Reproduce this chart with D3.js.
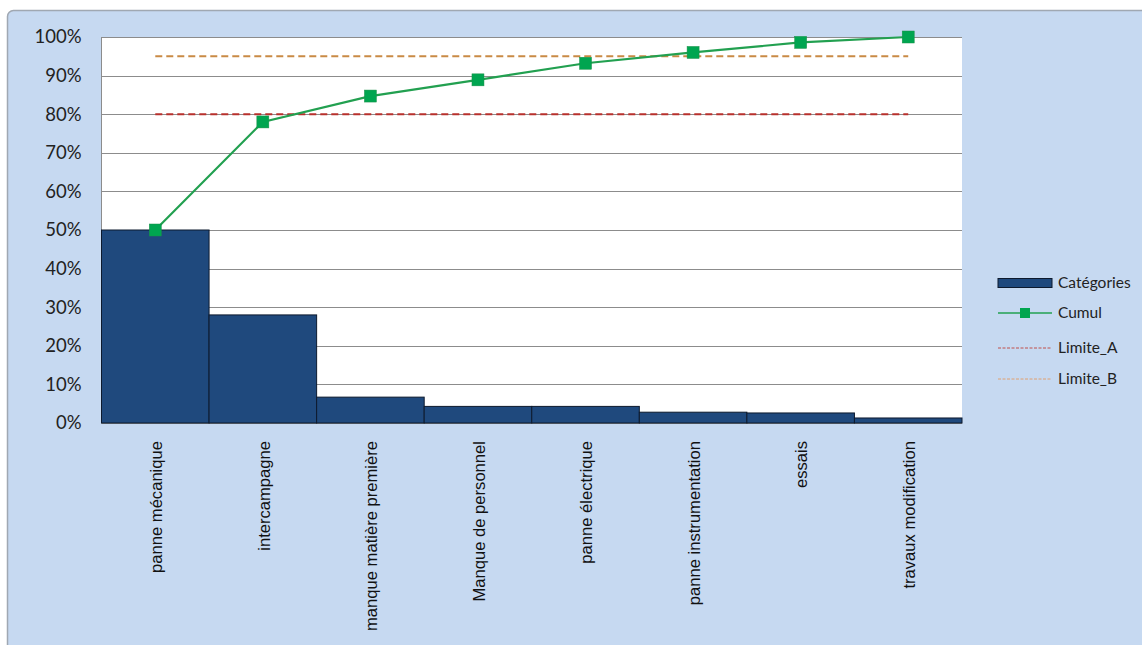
<!DOCTYPE html>
<html><head><meta charset="utf-8">
<script src="https://cdn.jsdelivr.net/npm/d3@7/dist/d3.min.js"></script>
<style>
html,body{margin:0;padding:0;background:#fff;}
svg{display:block;}
</style></head>
<body>
<svg id="chart" width="1142" height="645"></svg>
<script>
const categories = ["panne mécanique","intercampagne","manque matière première","Manque de personnel","panne électrique","panne instrumentation","essais","travaux modification"];
const barValues = [0.50, 0.28, 0.067, 0.043, 0.043, 0.028, 0.026, 0.013];
const cumulValues = [0.50, 0.78, 0.847, 0.889, 0.932, 0.96, 0.986, 1.00];
const limiteA = 0.80;
const limiteB = 0.95;
const yTicks = [0,0.1,0.2,0.3,0.4,0.5,0.6,0.7,0.8,0.9,1.0];
const legendLabels = ["Catégories","Cumul","Limite_A","Limite_B"];

const svg = d3.select("#chart");
// outer chart area
svg.append("rect").attr("x",7.5).attr("y",10.5).attr("width",1150).attr("height",650)
  .attr("rx",6).attr("fill","#c6d9f1").attr("stroke","#a0a8b2").attr("stroke-width",1.5);

const L=101.5, R=962, T=37, B=423;
const x = d3.scaleBand().domain(categories).range([L,R]).padding(0);
const y = d3.scaleLinear().domain([0,1]).range([B,T]);

svg.append("rect").attr("x",L).attr("y",T).attr("width",R-L).attr("height",B-T).attr("fill","#fff");

// gridlines
svg.append("g").selectAll("line").data(yTicks).join("line")
  .attr("x1",L).attr("x2",R).attr("y1",d=>Math.round(y(d))+0.5).attr("y2",d=>Math.round(y(d))+0.5)
  .attr("stroke","#8c8c8c").attr("stroke-width",1);
svg.append("line").attr("x1",L).attr("x2",L).attr("y1",T).attr("y2",B).attr("stroke","#8c8c8c");

// y axis
const yAxis = d3.axisLeft(y).tickValues(yTicks).tickFormat(d3.format(".0%")).tickSize(0).tickPadding(20);
const ya = svg.append("g").attr("transform",`translate(${L},0)`).call(yAxis);
ya.select(".domain").remove();
ya.selectAll("text").attr("font-family","Lato, 'Open Sans', sans-serif").attr("font-size",18.5).attr("fill","#222");

// bars
svg.append("g").selectAll("rect").data(barValues).join("rect")
  .attr("x",(d,i)=>x(categories[i])).attr("width",x.bandwidth())
  .attr("y",d=>y(d)).attr("height",d=>B-y(d))
  .attr("fill","#1f497d").attr("stroke","#0d1a2e").attr("stroke-width",1);

// x labels
const xAxis = d3.axisBottom(x).tickSize(0).tickPadding(0);
const xa = svg.append("g").attr("transform",`translate(0,${B})`).call(xAxis);
xa.select(".domain").remove();
xa.selectAll("text").attr("transform","rotate(-90)").attr("text-anchor","end")
  .attr("x",-18).attr("y",1).attr("dy","0.35em")
  .attr("font-family","'Liberation Sans', Arial, sans-serif").attr("font-size",16.6).attr("fill","#111");

// limit lines
const cx = i => x(categories[i]) + x.bandwidth()/2;
svg.append("line").attr("x1",cx(0)).attr("x2",cx(categories.length-1))
  .attr("y1",y(limiteA)).attr("y2",y(limiteA))
  .attr("stroke","#b8302c").attr("stroke-width",2).attr("stroke-dasharray","7,4");
svg.append("line").attr("x1",cx(0)).attr("x2",cx(categories.length-1))
  .attr("y1",y(limiteB)).attr("y2",y(limiteB))
  .attr("stroke","#c98a45").attr("stroke-width",2).attr("stroke-dasharray","7,4");

// cumul line
const line = d3.line().x((d,i)=>cx(i)).y(d=>y(d));
svg.append("path").datum(cumulValues).attr("d",line).attr("fill","none")
  .attr("stroke","#22a050").attr("stroke-width",2.2);
svg.append("g").selectAll("rect").data(cumulValues).join("rect")
  .attr("x",(d,i)=>cx(i)-6).attr("y",d=>y(d)-6).attr("width",12).attr("height",12)
  .attr("fill","#00a550").attr("stroke","#1a9048").attr("stroke-width",0.5);

// legend
const lg = svg.append("g");
const ly = [283,313,348,379];
lg.append("rect").attr("x",998).attr("y",ly[0]-4.5).attr("width",54).attr("height",9).attr("fill","#1f497d").attr("stroke","#0d1a2e");
lg.append("line").attr("x1",998).attr("x2",1052).attr("y1",ly[1]).attr("y2",ly[1]).attr("stroke","#22a050").attr("stroke-width",1.5);
lg.append("rect").attr("x",1020).attr("y",ly[1]-5).attr("width",10).attr("height",10).attr("fill","#00a550");
lg.append("line").attr("x1",998).attr("x2",1052).attr("y1",ly[2]).attr("y2",ly[2]).attr("stroke","#c0504d").attr("stroke-width",1).attr("stroke-dasharray","3,1.5");
lg.append("line").attr("x1",998).attr("x2",1052).attr("y1",ly[3]).attr("y2",ly[3]).attr("stroke","#e0a070").attr("stroke-width",1).attr("stroke-dasharray","3,1.5");
lg.selectAll("text").data(legendLabels).join("text")
  .attr("x",1058).attr("y",(d,i)=>ly[i]).attr("dy","0.35em")
  .attr("font-family","Lato, 'Open Sans', sans-serif").attr("font-size",15.5).attr("fill","#222")
  .text(d=>d);
</script>
</body></html>
